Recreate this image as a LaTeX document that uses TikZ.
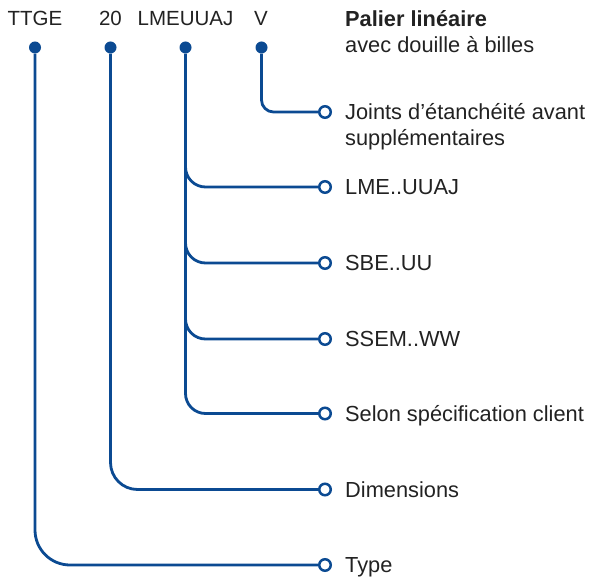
\documentclass[tikz,border=0pt]{standalone}
\usepackage{fontspec}
\setmainfont{Liberation Sans}
\begin{document}
\begin{tikzpicture}[x=1pt,y=-1pt,
  conn/.style={draw=lineblue,line width=2.8pt},
  dotnode/.style={circle,fill=lineblue,inner sep=0pt,minimum size=12pt},
  endnode/.style={circle,draw=lineblue,fill=white,line width=2.5pt,inner sep=0pt,minimum size=11.5pt},
  code/.style={anchor=base,text=txtgray,inner sep=0pt,font=\fontsize{20.5}{26}\selectfont},
  lbl/.style={anchor=base west,text=txtgray,inner sep=0pt,font=\fontsize{21.8}{26}\selectfont,align=left}
]
\definecolor{lineblue}{HTML}{0B4A92}
\definecolor{txtgray}{HTML}{222222}
\useasboundingbox (0,0) rectangle (591,577);
% top codes
\node[code] (tTTGE) at (35,26) {TTGE};
\node[code] (t20) at (110.5,26) {20};
\node[code] (tLME) at (185.5,26) {LMEUUAJ};
\node[code] (tV) at (261,26) {V};
\node[lbl] (title) at (345,53) {\textbf{Palier linéaire}\\avec douille à billes};
% dots
\node[dotnode] (dT) at (35,47.5) {};
\node[dotnode] (d20) at (110.5,47.5) {};
\node[dotnode] (dL) at (185.5,47.5) {};
\node[dotnode] (dV) at (261.5,47.5) {};
% end circles
\node[endnode] (eJ) at (325,112) {};
\node[endnode] (eLME) at (325,187) {};
\node[endnode] (eSBE) at (325,263) {};
\node[endnode] (eSSEM) at (325,339) {};
\node[endnode] (eSel) at (325,413.5) {};
\node[endnode] (eDim) at (325,489.5) {};
\node[endnode] (eType) at (325,565) {};
% labels
\node[lbl] (lJ) at (345,146) {Joints d’étanchéité avant\\supplémentaires};
\node[lbl] (lLME) at (345,194.5) {LME..UUAJ};
\node[lbl] (lSBE) at (345,270.5) {SBE..UU};
\node[lbl] (lSSEM) at (345,346.5) {SSEM..WW};
\node[lbl] (lSel) at (345,421) {Selon spécification client};
\node[lbl] (lDim) at (345,497) {Dimensions};
\node[lbl] (lType) at (345,572.5) {Type};
% branch points
\coordinate (b1) at (185.5,150);
\coordinate (b2) at (185.5,225);
\coordinate (b3) at (185.5,300);
% connectors
\draw[conn,rounded corners=12pt] (dV) |- (eJ);
\draw[conn,rounded corners=20pt] (dL) |- (eSel);
\draw[conn,rounded corners=20pt] (b1) |- (eLME);
\draw[conn,rounded corners=20pt] (b2) |- (eSBE);
\draw[conn,rounded corners=20pt] (b3) |- (eSSEM);
\draw[conn,rounded corners=27pt] (d20) |- (eDim);
\draw[conn,rounded corners=35pt] (dT) |- (eType);
\end{tikzpicture}
\end{document}
